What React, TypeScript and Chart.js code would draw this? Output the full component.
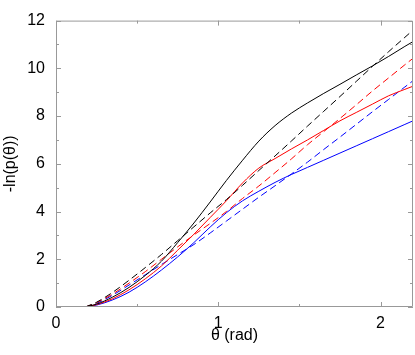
import React, { useEffect, useRef } from "react";
import { Chart, registerables } from "chart.js";

Chart.register(...registerables);

const thetas = [0.18, 0.25, 0.35, 0.45, 0.55, 0.65, 0.75, 0.85, 0.95, 1.05, 1.15, 1.25, 1.35, 1.45, 1.55, 1.65, 1.75, 1.85, 1.95, 2.05, 2.15, 2.2];

const blackSolid = [0, 0.12, 0.42, 0.82, 1.32, 1.92, 2.7, 3.52, 4.4, 5.3, 6.15, 6.95, 7.6, 8.12, 8.55, 8.95, 9.33, 9.72, 10.1, 10.5, 10.92, 11.12];
const blackDashed = [0, 0.2, 0.62, 1.12, 1.65, 2.2, 2.78, 3.36, 3.94, 4.5, 5.1, 5.72, 6.33, 6.95, 7.58, 8.2, 8.82, 9.45, 10.08, 10.7, 11.3, 11.6];
const redSolid = [0, 0.1, 0.35, 0.72, 1.18, 1.72, 2.38, 3.05, 3.75, 4.45, 5.2, 5.82, 6.22, 6.62, 7.0, 7.4, 7.8, 8.15, 8.5, 8.85, 9.12, 9.25];
const redDashed = [0, 0.18, 0.55, 1.0, 1.48, 2.0, 2.52, 3.02, 3.5, 4.0, 4.55, 5.07, 5.63, 6.2, 6.8, 7.35, 7.9, 8.47, 9.05, 9.6, 10.15, 10.42];
const blueSolid = [0, 0.08, 0.3, 0.62, 1.05, 1.55, 2.1, 2.7, 3.35, 3.95, 4.45, 4.85, 5.22, 5.55, 5.85, 6.15, 6.45, 6.75, 7.05, 7.35, 7.65, 7.8];
const blueDashed = [0, 0.15, 0.5, 0.92, 1.35, 1.78, 2.2, 2.62, 3.1, 3.6, 4.1, 4.6, 5.08, 5.57, 6.07, 6.6, 7.12, 7.65, 8.18, 8.7, 9.22, 9.48];

const xTicks = [0, 1, 2];
const yTicks = [0, 2, 4, 6, 8, 10, 12];

const FONT = "'Liberation Sans', Arial, Helvetica, sans-serif";

const framePlugin = {
  id: "frameTicks",
  afterDatasetsDraw(chart: any) {
    const { ctx, chartArea } = chart;
    const xs = chart.scales.x;
    const ys = chart.scales.y;
    const { left, right, top, bottom } = chartArea;
    ctx.save();
    ctx.strokeStyle = "#999999";
    ctx.lineWidth = 1;
    ctx.beginPath();
    ctx.rect(left + 0.5, top + 0.5, right - left - 1, bottom - top - 1);
    ctx.stroke();
    const major = 5;
    const minor = 3;
    const xVals: [number, number][] = [];
    for (let i = 0; i < xTicks.length; i++) {
      xVals.push([xTicks[i], major]);
      xVals.push([xTicks[i] + 0.5, minor]);
    }
    ctx.beginPath();
    for (const [v, len] of xVals) {
      if (v > xs.max) continue;
      const px = Math.round(xs.getPixelForValue(v)) + 0.5;
      ctx.moveTo(px, bottom);
      ctx.lineTo(px, bottom - len);
      ctx.moveTo(px, top);
      ctx.lineTo(px, top + len);
    }
    const yVals: [number, number][] = [];
    for (let i = 0; i < yTicks.length; i++) {
      yVals.push([yTicks[i], major]);
      if (i < yTicks.length - 1) yVals.push([yTicks[i] + 1, minor]);
    }
    for (const [v, len] of yVals) {
      const py = Math.round(ys.getPixelForValue(v)) + 0.5;
      ctx.moveTo(left, py);
      ctx.lineTo(left + len, py);
      ctx.moveTo(right, py);
      ctx.lineTo(right - len, py);
    }
    ctx.stroke();
    ctx.restore();
  },
};

function mk(label: string, ys: number[], color: string, dashed: boolean) {
  return {
    label,
    data: thetas.map((t, i) => ({ x: t, y: ys[i] })),
    borderColor: color,
    backgroundColor: color,
    borderWidth: 1,
    borderDash: dashed ? [7, 4] : [],
    pointRadius: 0,
    fill: false,
    cubicInterpolationMode: "monotone" as const,
  };
}

export default function App() {
  const ref = useRef<HTMLCanvasElement | null>(null);
  useEffect(() => {
    document.body.style.margin = "0";
    if (!ref.current) return;
    const chart = new Chart(ref.current, {
      type: "line",
      data: {
        datasets: [
          mk("black solid", blackSolid, "#000000", false),
          mk("black dashed", blackDashed, "#000000", true),
          mk("red solid", redSolid, "#ff0000", false),
          mk("red dashed", redDashed, "#ff0000", true),
          mk("blue solid", blueSolid, "#0000ff", false),
          mk("blue dashed", blueDashed, "#0000ff", true),
        ],
      },
      options: {
        animation: false,
        responsive: false,
        devicePixelRatio: 1,
        layout: { padding: { top: 9, right: 2, left: 0, bottom: 0 } },
        plugins: { legend: { display: false }, tooltip: { enabled: false } },
        scales: {
          x: {
            type: "linear",
            min: 0,
            max: 2.2,
            afterBuildTicks: (s: any) => {
              s.ticks = xTicks.map((v) => ({ value: v }));
            },
            afterFit: (s: any) => {
              s.height = 48;
            },
            grid: { display: false, drawTicks: false },
            border: { display: false },
            ticks: { color: "#000", padding: 7, font: { family: FONT, size: 16 }, maxRotation: 0 },
            title: { display: true, text: "θ (rad)", color: "#000", font: { family: FONT, size: 16 }, padding: { top: 0, bottom: 10 } },
          },
          y: {
            type: "linear",
            min: 0,
            max: 12,
            afterBuildTicks: (s: any) => {
              s.ticks = yTicks.map((v) => ({ value: v }));
            },
            afterFit: (s: any) => {
              s.width = 56;
            },
            grid: { display: false, drawTicks: false },
            border: { display: false },
            ticks: { color: "#000", padding: 11, font: { family: FONT, size: 16 } },
            title: { display: true, text: "-ln(p(θ))", color: "#000", font: { family: FONT, size: 16 }, padding: { top: 1, bottom: 0 } },
          },
        },
      },
      plugins: [framePlugin],
    });
    return () => chart.destroy();
  }, []);
  return (
    <div style={{ width: 415, height: 355, position: "relative" }}>
      <canvas ref={ref} width={415} height={355} style={{ display: "block", width: 415, height: 355 }} />
    </div>
  );
}
